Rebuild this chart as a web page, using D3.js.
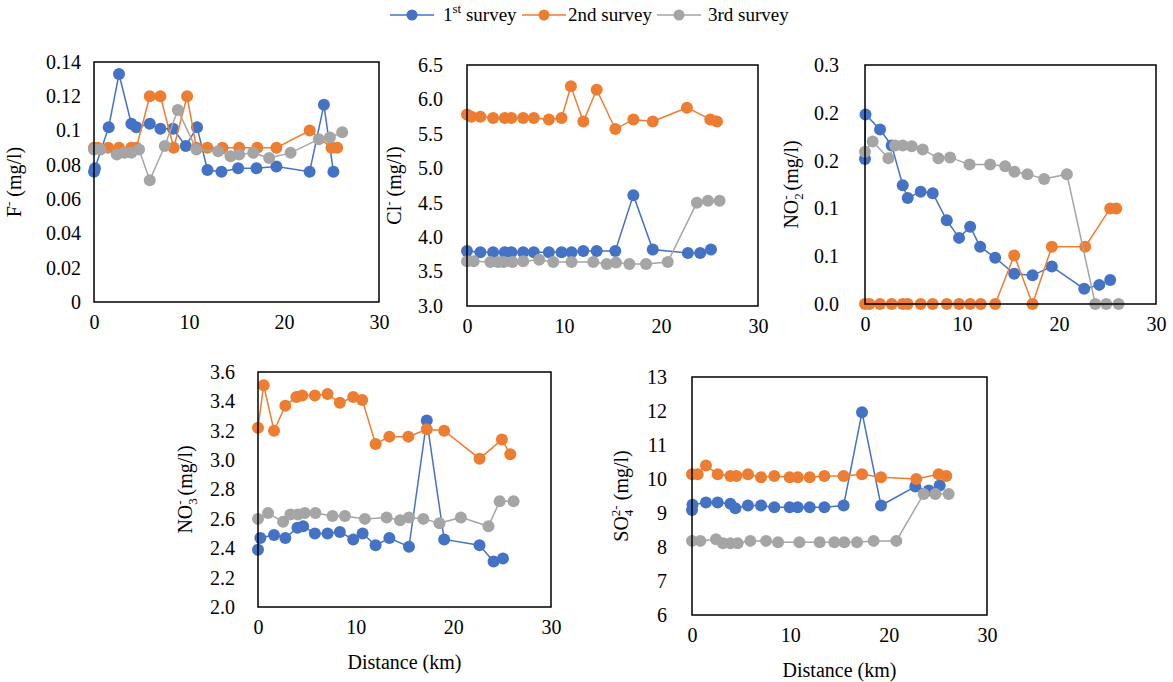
<!DOCTYPE html>
<html>
<head>
<meta charset="utf-8">
<script src="https://cdn.jsdelivr.net/npm/d3@7"></script>
<style>
  body { margin: 0; background: #fff; }
  svg text { font-family: "Liberation Serif", "DejaVu Serif", "Times New Roman", serif; fill: #000; }
</style>
</head>
<body>
<svg id="mainSVG" width="1173" height="682"></svg>
<script>
var surveys = ["1st survey", "2nd survey", "3rd survey"];
var colors = ["#4472C4", "#ED7D31", "#A5A5A5"];
var xTicks = [0, 10, 20, 30];

// F-
var fX1 = [0, 0.1, 1.55, 2.63, 3.93, 4.46, 5.87, 6.99, 8.32, 9.66, 10.85, 11.94, 13.42, 15.17, 17.1, 19.2, 22.7, 24.2, 25.2];
var fY1 = [0.076, 0.078, 0.102, 0.133, 0.104, 0.102, 0.104, 0.101, 0.101, 0.091, 0.102, 0.077, 0.076, 0.078, 0.078, 0.079, 0.076, 0.115, 0.076];
var fX2 = [0, 0.4, 1.5, 2.63, 3.93, 4.46, 5.87, 6.99, 8.39, 9.8, 10.78, 11.94, 13.52, 15.28, 17.18, 19.2, 22.7, 25.0, 25.6];
var fY2 = [0.09, 0.09, 0.09, 0.09, 0.09, 0.09, 0.12, 0.12, 0.09, 0.12, 0.09, 0.09, 0.09, 0.09, 0.09, 0.09, 0.1, 0.09, 0.09];
var fX3 = [0, 0.7, 2.4, 3.2, 3.93, 4.74, 5.87, 7.45, 8.82, 10.78, 13.07, 14.37, 15.28, 16.76, 18.44, 20.69, 23.67, 24.83, 26.13];
var fY3 = [0.089, 0.089, 0.086, 0.087, 0.087, 0.089, 0.071, 0.091, 0.112, 0.089, 0.088, 0.085, 0.086, 0.087, 0.084, 0.087, 0.095, 0.096, 0.099];

// Cl-
var clX1 = [0, 1.38, 2.69, 3.89, 4.58, 5.79, 6.89, 8.44, 9.75, 10.78, 11.99, 13.37, 15.29, 17.15, 19.15, 22.77, 24.04, 25.15];
var clY1 = [3.80, 3.78, 3.78, 3.78, 3.78, 3.78, 3.78, 3.78, 3.78, 3.78, 3.80, 3.80, 3.80, 4.61, 3.82, 3.77, 3.77, 3.82];
var clX2 = [0, 0.45, 1.38, 2.69, 3.89, 4.58, 5.79, 6.89, 8.44, 9.75, 10.71, 11.99, 13.37, 15.29, 17.15, 19.15, 22.67, 25.08, 25.77];
var clY2 = [5.78, 5.75, 5.75, 5.73, 5.73, 5.73, 5.73, 5.73, 5.71, 5.73, 6.19, 5.68, 6.14, 5.57, 5.71, 5.68, 5.88, 5.71, 5.68];
var clX3 = [0, 0.69, 2.41, 3.2, 3.79, 4.68, 5.79, 7.44, 8.89, 10.78, 13.02, 14.4, 15.36, 16.74, 18.46, 20.7, 23.7, 24.84, 26.04];
var clY3 = [3.65, 3.65, 3.64, 3.64, 3.64, 3.64, 3.65, 3.67, 3.64, 3.64, 3.64, 3.61, 3.63, 3.61, 3.61, 3.64, 4.50, 4.53, 4.53];

// NO2-
var n2X1 = [0, 0.05, 1.55, 2.75, 3.89, 4.40, 5.74, 6.98, 8.43, 9.70, 10.84, 11.87, 13.42, 15.38, 17.27, 19.26, 22.6, 24.15, 25.28];
var n2Y1 = [0.182, 0.238, 0.219, 0.199, 0.149, 0.133, 0.141, 0.139, 0.105, 0.083, 0.097, 0.072, 0.058, 0.038, 0.036, 0.047, 0.019, 0.024, 0.030];
var n2X2 = [0, 0.45, 1.55, 2.75, 3.89, 4.40, 5.74, 6.98, 8.43, 9.70, 10.84, 11.94, 13.42, 15.38, 17.27, 19.26, 22.7, 25.28, 25.9];
var n2Y2 = [0, 0, 0, 0, 0, 0, 0, 0, 0, 0, 0, 0, 0, 0.061, 0, 0.072, 0.072, 0.12, 0.12];
var n2X3 = [0, 0.79, 2.41, 3.1, 3.89, 4.82, 5.95, 7.57, 8.77, 10.77, 12.9, 14.45, 15.41, 16.75, 18.47, 20.81, 23.74, 24.87, 26.14];
var n2Y3 = [0.191, 0.204, 0.183, 0.199, 0.199, 0.198, 0.194, 0.183, 0.184, 0.175, 0.175, 0.173, 0.166, 0.163, 0.157, 0.163, 0, 0, 0];

// NO3-
var n3X1 = [0, 0.24, 1.64, 2.8, 4.04, 4.62, 5.82, 7.12, 8.38, 9.75, 10.71, 12.04, 13.45, 15.46, 17.28, 19.06, 22.68, 24.12, 25.08];
var n3Y1 = [2.39, 2.47, 2.49, 2.47, 2.54, 2.55, 2.50, 2.50, 2.51, 2.46, 2.50, 2.42, 2.47, 2.41, 3.27, 2.46, 2.42, 2.31, 2.33];
var n3X2 = [0, 0.58, 1.64, 2.8, 3.93, 4.52, 5.82, 7.12, 8.38, 9.75, 10.67, 12.04, 13.45, 15.39, 17.28, 19.06, 22.68, 24.97, 25.83];
var n3Y2 = [3.22, 3.51, 3.20, 3.37, 3.43, 3.44, 3.44, 3.45, 3.39, 3.43, 3.41, 3.11, 3.16, 3.16, 3.21, 3.20, 3.01, 3.14, 3.04];
var n3X3 = [0, 1.03, 2.57, 3.32, 4.1, 4.79, 5.88, 7.63, 8.9, 10.95, 13.17, 14.54, 15.46, 16.93, 18.58, 20.77, 23.6, 24.74, 26.17];
var n3Y3 = [2.60, 2.64, 2.58, 2.63, 2.63, 2.64, 2.64, 2.62, 2.62, 2.60, 2.61, 2.59, 2.61, 2.60, 2.57, 2.61, 2.55, 2.72, 2.72];

// SO4 2-
var s4X1 = [0, 0.05, 1.42, 2.61, 3.9, 4.41, 5.69, 7.02, 8.37, 9.93, 10.75, 11.97, 13.46, 15.42, 17.29, 19.22, 22.71, 24.07, 25.19];
var s4Y1 = [9.09, 9.24, 9.31, 9.31, 9.27, 9.14, 9.22, 9.22, 9.17, 9.17, 9.17, 9.17, 9.17, 9.22, 11.96, 9.22, 9.78, 9.66, 9.81];
var s4X2 = [0, 0.58, 1.42, 2.61, 3.9, 4.51, 5.69, 7.02, 8.37, 9.93, 10.75, 11.97, 13.46, 15.42, 17.29, 19.22, 22.81, 25.08, 25.86];
var s4Y2 = [10.14, 10.14, 10.40, 10.14, 10.09, 10.09, 10.14, 10.05, 10.09, 10.05, 10.05, 10.05, 10.09, 10.09, 10.14, 10.05, 10.0, 10.14, 10.09];
var s4X3 = [0, 0.85, 2.44, 3.15, 3.9, 4.64, 5.93, 7.53, 8.75, 10.92, 12.98, 14.47, 15.49, 16.78, 18.47, 20.78, 23.56, 24.75, 26.1];
var s4Y3 = [8.18, 8.18, 8.23, 8.11, 8.11, 8.11, 8.18, 8.18, 8.14, 8.14, 8.14, 8.14, 8.14, 8.14, 8.18, 8.18, 9.56, 9.56, 9.56];

var fTicks = [0, 0.02, 0.04, 0.06, 0.08, 0.1, 0.12, 0.14];
var clTicks = [3.0, 3.5, 4.0, 4.5, 5.0, 5.5, 6.0, 6.5];
var n2Ticks = [0, 0.06, 0.12, 0.18, 0.24, 0.3];
var n3Ticks = [2.0, 2.2, 2.4, 2.6, 2.8, 3.0, 3.2, 3.4, 3.6];
var s4Ticks = [6, 7, 8, 9, 10, 11, 12, 13];

var FONT = '"Liberation Serif", "DejaVu Serif", serif';

// title parts: [text, "sup"/"sub"/null]
var panels = [
  { left: 94, top: 62, right: 379, bottom: 302, ticks: fTicks, fmt: function(d){ return String(+d.toFixed(2)); },
    gap: 13, titleX: 21, title: [["F", null], ["-", "sup"], [" (mg/l)", null]], xTitle: false,
    xs: [fX1, fX2, fX3], ys: [fY1, fY2, fY3] },
  { left: 467, top: 65, right: 758, bottom: 306, ticks: clTicks, fmt: d3.format(".1f"),
    gap: 24, titleX: 401, title: [["Cl", null], ["-", "sup"], [" (mg/l)", null]], xTitle: false,
    xs: [clX1, clX2, clX3], ys: [clY1, clY2, clY3] },
  { left: 865, top: 65, right: 1156, bottom: 304, ticks: n2Ticks, fmt: d3.format(".1f"),
    gap: 26, titleX: 798, title: [["NO", null], ["2", "sub"], ["-", "sup"], [" (mg/l)", null]], xTitle: false,
    xs: [n2X1, n2X2, n2X3], ys: [n2Y1, n2Y2, n2Y3] },
  { left: 258, top: 372, right: 551, bottom: 607, ticks: n3Ticks, fmt: d3.format(".1f"),
    gap: 23, titleX: 192, title: [["NO", null], ["3", "sub"], ["-", "sup"], [" (mg/l)", null]], xTitle: true,
    xs: [n3X1, n3X2, n3X3], ys: [n3Y1, n3Y2, n3Y3] },
  { left: 692, top: 377, right: 987, bottom: 615, ticks: s4Ticks, fmt: d3.format("d"),
    gap: 25, titleX: 628, title: [["SO", null], ["4", "sub"], ["2-", "sup"], [" (mg/l)", null]], xTitle: true,
    xs: [s4X1, s4X2, s4X3], ys: [s4Y1, s4Y2, s4Y3] }
];

var svg = d3.select("#mainSVG").attr("font-family", FONT);

function addRich(textSel, parts) {
  var shift = 0, prev = null, prevLen = 0;
  parts.forEach(function(p) {
    var t = textSel.append("tspan").text(p[0]);
    var target = p[1] == "sup" ? -8 : (p[1] == "sub" ? 5 : 0);
    if (p[1]) t.style("font-size", "13px");
    t.attr("dy", target - shift);
    // stack a superscript right above the subscript before it
    if (p[1] == "sup" && prev == "sub") t.attr("dx", -prevLen);
    shift = target;
    prev = p[1];
    prevLen = t.node().getComputedTextLength();
  });
}

function drawPanel(p) {
  var g = svg.append("g");
  var x = d3.scaleLinear().domain([0, 30]).range([p.left, p.right]);
  var y = d3.scaleLinear().domain([p.ticks[0], p.ticks[p.ticks.length - 1]]).range([p.bottom, p.top]);

  var ya = g.append("g").attr("transform", "translate(" + (p.left - p.gap) + ",0)")
    .call(d3.axisLeft(y).tickValues(p.ticks).tickFormat(p.fmt).tickSize(0).tickPadding(0));
  ya.select(".domain").remove();
  ya.attr("font-family", FONT).attr("font-size", 20);

  var xa = g.append("g").attr("transform", "translate(0," + (p.bottom + 8) + ")")
    .call(d3.axisBottom(x).tickValues(xTicks).tickSize(0).tickPadding(5));
  xa.select(".domain").remove();
  xa.attr("font-family", FONT).attr("font-size", 20);

  var line = d3.line().x(function(d){ return x(d[0]); }).y(function(d){ return y(d[1]); });
  for (var s = 0; s < 3; s++) {
    var pts = d3.zip(p.xs[s], p.ys[s]);
    g.append("path").datum(pts).attr("d", line)
      .attr("fill", "none").attr("stroke", colors[s]).attr("stroke-width", 1.5);
    g.selectAll(".m" + s).data(pts).enter().append("circle")
      .attr("cx", function(d){ return x(d[0]); })
      .attr("cy", function(d){ return y(d[1]); })
      .attr("r", 6).attr("fill", colors[s]);
  }

  g.append("rect").attr("x", p.left).attr("y", p.top)
    .attr("width", p.right - p.left).attr("height", p.bottom - p.top)
    .attr("fill", "none").attr("stroke", "#000").attr("stroke-width", 1.5);

  var cy = (p.top + p.bottom) / 2;
  var tt = g.append("text").attr("text-anchor", "middle").style("font-size", "20px")
    .attr("transform", "translate(" + p.titleX + "," + cy + ") rotate(-90)").attr("dy", "0.35em");
  addRich(tt, p.title);

  if (p.xTitle) {
    g.append("text").attr("x", (p.left + p.right) / 2).attr("y", p.bottom + 62)
      .attr("text-anchor", "middle").style("font-size", "20px").text("Distance (km)");
  }
}

panels.forEach(drawPanel);

// legend
var legX = [390, 522, 657];
var legText = [[["1", null], ["st", "sup"], [" survey", null]], [["2nd survey", null]], [["3rd survey", null]]];
var legTextX = [443, 568, 708];
var leg = svg.append("g");
for (var i = 0; i < 3; i++) {
  leg.append("line").attr("x1", legX[i]).attr("x2", legX[i] + 44).attr("y1", 15).attr("y2", 15)
    .attr("stroke", colors[i]).attr("stroke-width", 1.5);
  leg.append("circle").attr("cx", legX[i] + 22).attr("cy", 15).attr("r", 5.5).attr("fill", colors[i]);
  var lt = leg.append("text").attr("x", legTextX[i]).attr("y", 21).style("font-size", "19px");
  addRich(lt, legText[i]);
}
</script>
</body>
</html>
